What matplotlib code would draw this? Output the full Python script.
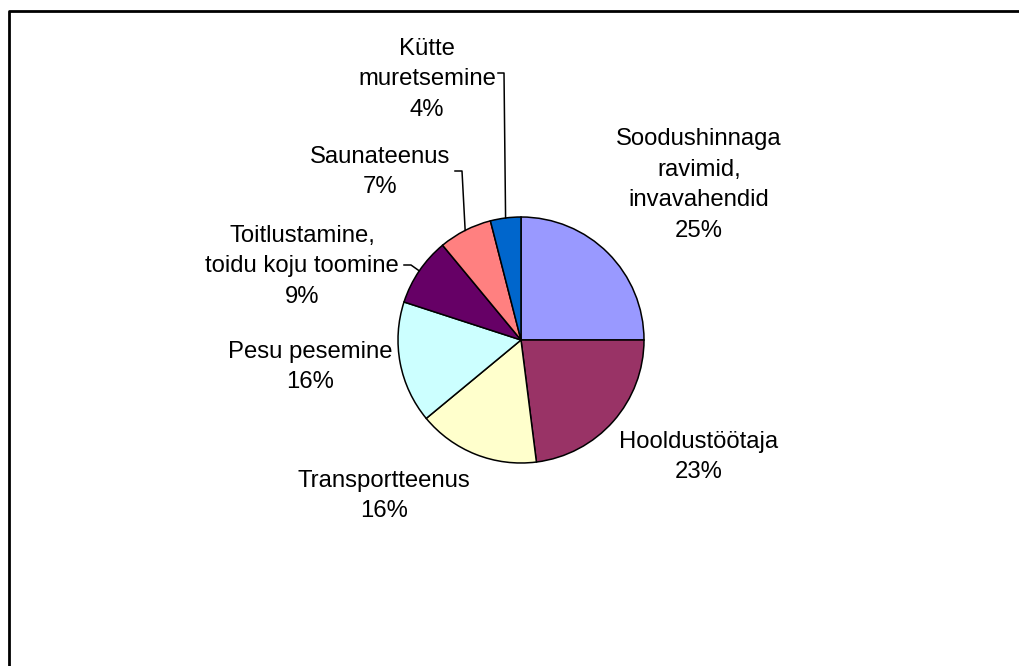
import numpy as np
import matplotlib
matplotlib.use("Agg")
import matplotlib.pyplot as plt

# data
names = ["Soodushinnaga\nravimid,\ninvavahendid", "Hooldustöötaja", "Transportteenus",
         "Pesu pesemine", "Toitlustamine,\ntoidu koju toomine", "Saunateenus",
         "Kütte\nmuretsemine"]
values = [25, 23, 16, 16, 9, 7, 4]
colors = ["#9999FF", "#993366", "#FFFFCC", "#CCFFFF", "#660066", "#FF8080", "#0066CC"]

# layout (pixels, top-left origin)
W, H = 1020, 666
center_px = (521, 340)
radius_px = 123
label_pos = [(699, 185), (699, 457), (384, 496), (310, 367), (302, 266), (380, 172), (427, 79)]
# leader lines: (label end x, elbow x, y) or None
leaders = [None, None, None, None, (404, 411, 265), (455, 462, 171), (498, 504, 73)]


def Y(y):
    return H - y


plt.rcParams["font.family"] = ["Liberation Sans", "DejaVu Sans"]

fig = plt.figure(figsize=(W / 100, H / 100), dpi=100)
ax = fig.add_axes([0, 0, 1, 1])

wedges, _ = ax.pie(values, colors=colors, startangle=90, counterclock=False,
                   center=(center_px[0], Y(center_px[1])), radius=radius_px,
                   wedgeprops=dict(edgecolor="black", linewidth=1.1))
ax.set_xlim(0, W)
ax.set_ylim(0, H)
ax.set_aspect("equal")
ax.axis("off")

for i, w in enumerate(wedges):
    txt = f"{names[i]}\n{values[i]}%"
    x, y = label_pos[i]
    ax.text(x, Y(y), txt, ha="center", va="center", multialignment="center",
            fontsize=17.2, linespacing=1.5)
    if leaders[i] is not None:
        x0, x1, ly = leaders[i]
        mid = np.deg2rad((w.theta1 + w.theta2) / 2)
        ex = center_px[0] + radius_px * np.cos(mid)
        ey = Y(center_px[1]) + radius_px * np.sin(mid)
        ax.plot([x0, x1, ex], [Y(ly), Y(ly), ey], color="black", lw=1.1)

# outer frame (only top and left visible)
ax.plot([9, 9, W + 5], [-5, Y(11), Y(11)], color="black", lw=2.0, clip_on=False)

fig.savefig("out.png", dpi=100)
